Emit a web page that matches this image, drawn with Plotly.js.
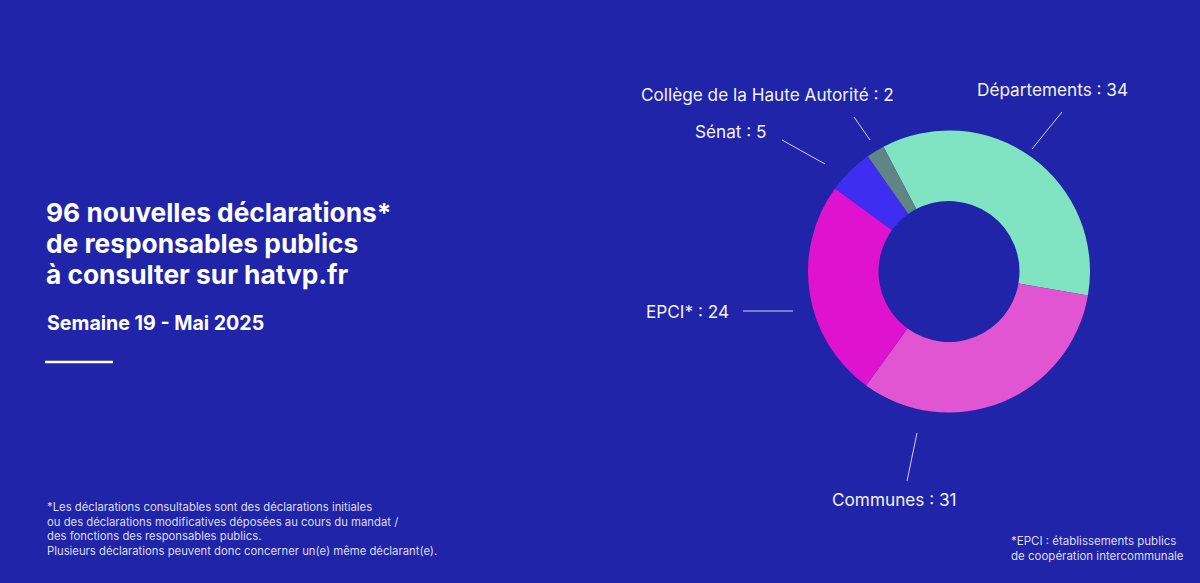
<!DOCTYPE html>
<html><head><meta charset="utf-8">
<script src="https://cdn.plot.ly/plotly-3.0.1.min.js"></script>
<style>html,body{margin:0;padding:0;background:#1f24a8;}#chart{width:1200px;height:583px;}</style>
</head><body><div id="chart"></div>
<script>
const categories = ["Départements", "Communes", "EPCI*", "Sénat", "Collège de la Haute Autorité"];
const values = [34, 31, 24, 5, 2];
const colors = ["#80e4c2", "#e155d2", "#de12cf", "#3e2ef2", "#5f8584"];
const titleLines = ["96 nouvelles déclarations*", "de responsables publics", "à consulter sur hatvp.fr"];
const subtitle = "Semaine 19 - Mai 2025";
const footnoteLines = [
  "*Les déclarations consultables sont des déclarations initiales",
  "ou des déclarations modificatives déposées au cours du mandat /",
  "des fonctions des responsables publics.",
  "Plusieurs déclarations peuvent donc concerner un(e) même déclarant(e)."
];
const epciNote = ["*EPCI : établissements publics", "de coopération intercommunale"];

const W = 1200, H = 583;
const px = x => x / W, py = y => 1 - y / H;
const FONT = "Inter, 'Open Sans', sans-serif";

// label placement (pixel positions of label anchors and leader lines), keyed by category index
const labelPos = [
  {x: 1052, y: 89, anchor: "center", line: [1062, 112, 1032, 149]},
  {x: 894, y: 499, anchor: "center", line: [917, 433, 907, 481]},
  {x: 731, y: 311, anchor: "right", line: [743, 311, 793, 311]},
  {x: 769, y: 131, anchor: "right", line: [782, 140, 825, 164]},
  {x: 896, y: 94, anchor: "right", line: [854, 117, 870, 140]}
];
const titleY = [212, 244, 274];

const cx = 949, cy = 271.5, R = 141;
const data = [{
  type: "pie",
  labels: categories,
  values: values,
  marker: {colors: colors, line: {width: 0}},
  hole: 0.5,
  sort: false,
  direction: "clockwise",
  rotation: -27.7,
  textinfo: "none",
  hoverinfo: "label+value",
  showlegend: false,
  domain: {x: [px(cx - R), px(cx + R)], y: [py(cy + R), py(cy - R)]}
}];

const annotations = [];
const shapes = [];
categories.forEach((c, i) => {
  const p = labelPos[i];
  annotations.push({
    xref: "paper", yref: "paper", x: px(p.x), y: py(p.y),
    xanchor: p.anchor, yanchor: "middle", showarrow: false,
    text: c + " : " + values[i],
    font: {family: FONT, size: 17.2, color: "#f2f2fb"}
  });
  shapes.push({type: "line", xref: "paper", yref: "paper",
    x0: px(p.line[0]), y0: py(p.line[1]), x1: px(p.line[2]), y1: py(p.line[3]),
    line: {color: "rgba(235,235,250,0.85)", width: 1}});
});

titleLines.forEach((t, i) => {
  annotations.push({
    xref: "paper", yref: "paper", x: px(44), y: py(titleY[i]), xanchor: "left", yanchor: "middle",
    align: "left", showarrow: false,
    text: "<b>" + t + "</b>",
    font: {family: FONT, size: 26.3, color: "#ffffff"}
  });
});
annotations.push({
  xref: "paper", yref: "paper", x: px(45), y: py(323), xanchor: "left", yanchor: "middle",
  showarrow: false, text: "<b>" + subtitle + "</b>",
  font: {family: FONT, size: 19.6, color: "#ffffff"}
});
shapes.push({type: "line", xref: "paper", yref: "paper",
  x0: px(45), x1: px(113), y0: py(362), y1: py(362),
  line: {color: "#ffffff", width: 2.5}});
annotations.push({
  xref: "paper", yref: "paper", x: px(45), y: py(498), xanchor: "left", yanchor: "top",
  align: "left", showarrow: false,
  text: footnoteLines.join("<br>"),
  font: {family: FONT, size: 11.3, color: "#dcdcf2"}
});
annotations.push({
  xref: "paper", yref: "paper", x: px(1009), y: py(532), xanchor: "left", yanchor: "top",
  align: "left", showarrow: false,
  text: epciNote.join("<br>"),
  font: {family: FONT, size: 11.5, color: "#dcdcf2"}
});

const layout = {
  width: W, height: H,
  margin: {l: 0, r: 0, t: 0, b: 0},
  paper_bgcolor: "#1f24a8",
  plot_bgcolor: "#1f24a8",
  showlegend: false,
  annotations: annotations,
  shapes: shapes
};
Plotly.newPlot("chart", data, layout, {displayModeBar: false, staticPlot: true});
</script></body></html>
